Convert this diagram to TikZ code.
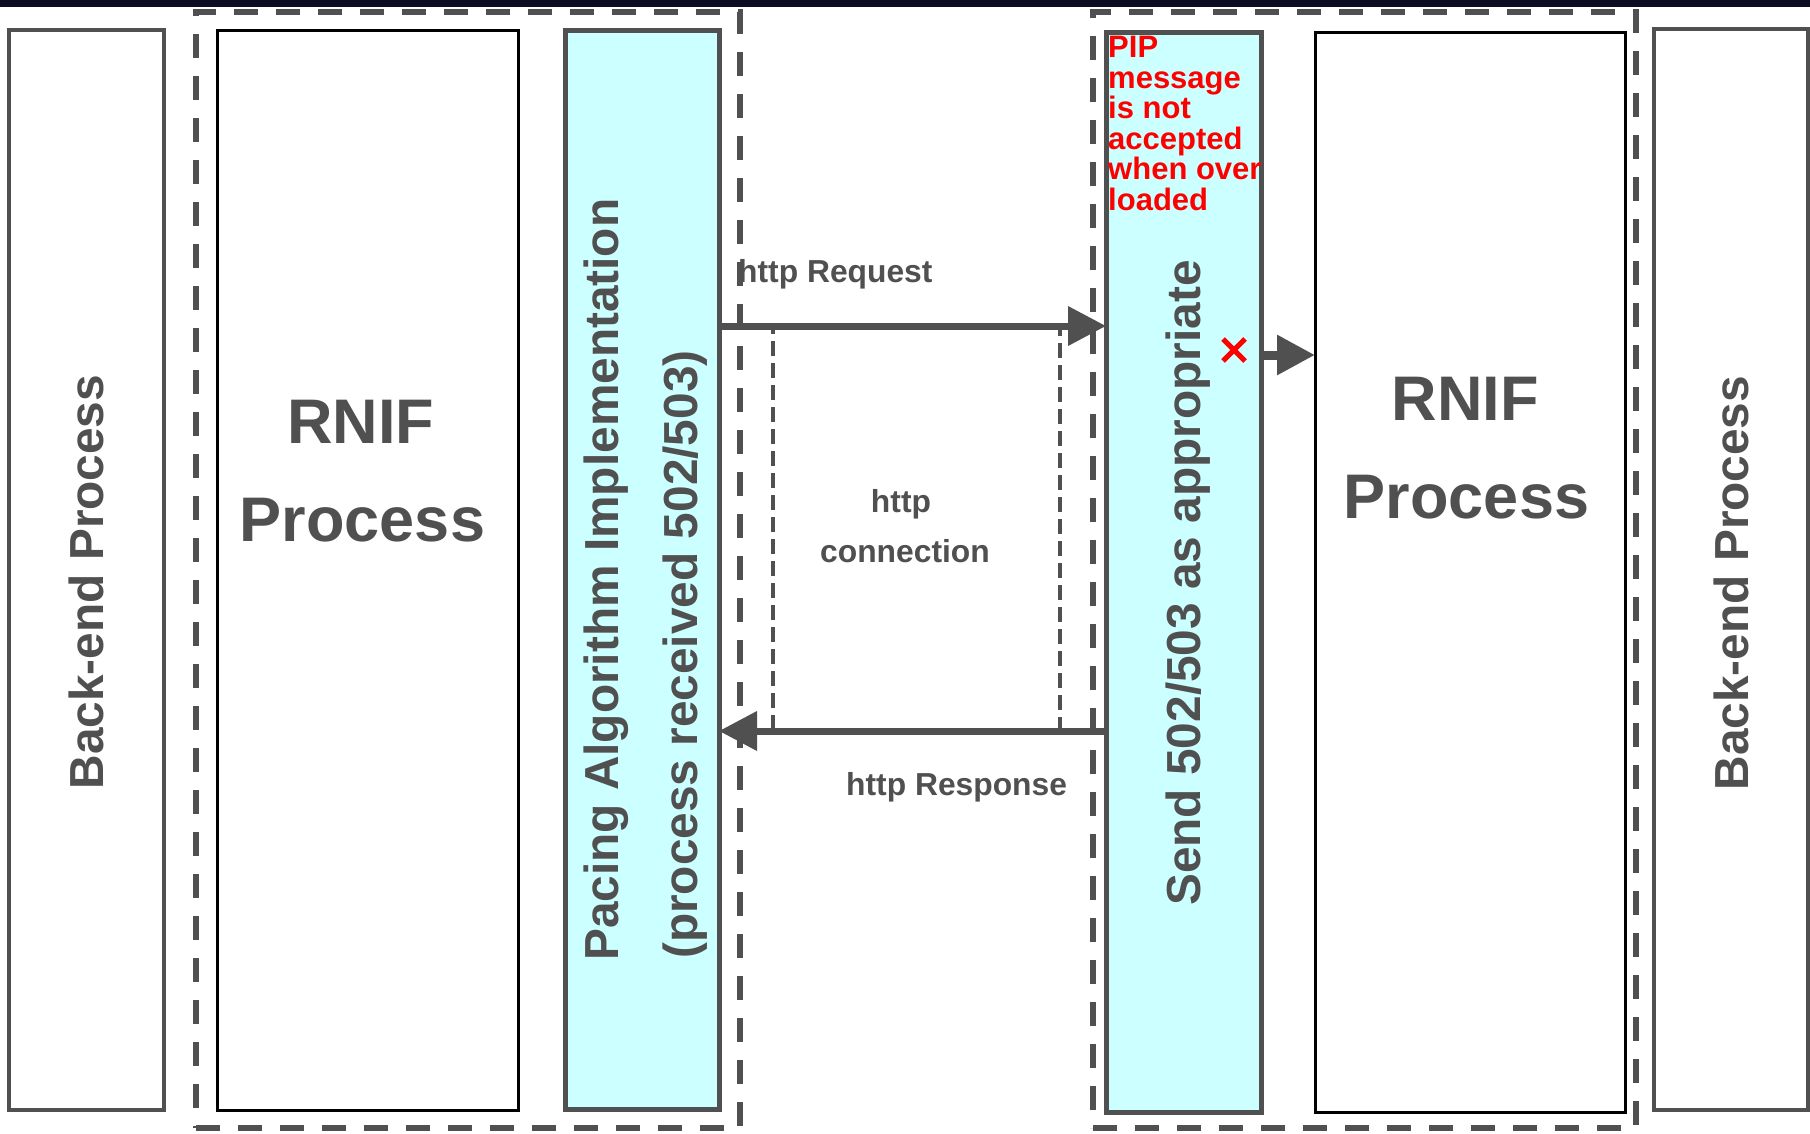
\documentclass[tikz,border=0pt]{standalone}
\usepackage{fontspec}
\setmainfont{Liberation Sans}
\usetikzlibrary{arrows.meta}
\definecolor{dg}{HTML}{505050}
\definecolor{cy}{HTML}{CCFFFF}
\definecolor{topbar}{HTML}{0C0C22}
\begin{document}
\begin{tikzpicture}[x=1pt,y=-1pt,
  bebox/.style={draw=dg, line width=4pt, inner sep=0pt, outer sep=0pt, fill=white},
  rnbox/.style={draw=black, line width=3pt, inner sep=0pt, outer sep=0pt, fill=white},
  cybox/.style={draw=dg, line width=5pt, inner sep=0pt, outer sep=0pt, fill=cy},
  grpbox/.style={draw=dg, line width=5.5pt, dash pattern=on 24pt off 18pt, inner sep=0pt, outer sep=0pt},
  connbox/.style={draw=dg, line width=3.5pt, dash pattern=on 15pt off 7pt, inner sep=0pt, outer sep=0pt},
  bigtxt/.style={text=dg, inner sep=0pt, font=\bfseries\fontsize{47.8pt}{58pt}\selectfont},
  rniftxt/.style={text=dg, inner sep=0pt, font=\bfseries\fontsize{63pt}{70pt}\selectfont},
  lbltxt/.style={text=dg, inner sep=0pt, font=\bfseries\fontsize{31.8pt}{36pt}\selectfont},
  msgarrow/.style={draw=dg, line width=7pt, -{Triangle[length=38pt,width=38pt]}},
  smallarrow/.style={draw=dg, line width=9pt, -{Triangle[length=38pt,width=38pt]}}
]
\useasboundingbox (0,0) rectangle (1810,1133);
\fill[white] (0,0) rectangle (1810,1133);
\fill[topbar] (0,0) rectangle (1810,7);

% group boxes
\node[grpbox, minimum width=544pt, minimum height=1116pt] (lgrp) at (468,570) {};
\node[grpbox, minimum width=543pt, minimum height=1116pt] (rgrp) at (1364.5,570) {};

% boxes
\node[bebox, minimum width=155pt, minimum height=1080pt] (lbe) at (86.5,570) {};
\node[rnbox, minimum width=301pt, minimum height=1080pt] (lrn) at (367.5,570) {};
\node[cybox, minimum width=154pt, minimum height=1079pt] (lcy) at (642,569.5) {};
\node[cybox, minimum width=155pt, minimum height=1080pt] (rcy) at (1183.5,572) {};
\node[rnbox, minimum width=310pt, minimum height=1080pt] (rrn) at (1470,572) {};
\node[bebox, minimum width=154pt, minimum height=1081pt] (rbe) at (1731,569.5) {};

% http connection box
\node[connbox, minimum width=287pt, minimum height=403pt] (conn) at (916.5,529.5) {};

% texts
\node[bigtxt, rotate=90, anchor=base] (lbet) at (103,582) {Back-end Process};
\node[bigtxt, rotate=90, anchor=base] (rbet) at (1748,583) {Back-end Process};
\node[rniftxt, anchor=base] (lrn1) at (361,443) {RNIF};
\node[rniftxt, anchor=base] (lrn2) at (362.5,541) {Process};
\node[rniftxt, anchor=base] (rrn1) at (1465,420) {RNIF};
\node[rniftxt, anchor=base] (rrn2) at (1466.5,518) {Process};
\node[bigtxt, rotate=90, anchor=base west] (pac1) at (618,961) {Pacing Algorithm Implementation};
\node[bigtxt, rotate=90, anchor=base west] (pac2) at (697,959) {(process received 502/503)};
\node[bigtxt, rotate=90, anchor=base] (send) at (1200,583) {Send 502/503 as appropriate};
\node[text=red, inner sep=0pt, anchor=north west, align=left,
      font=\bfseries\fontsize{31pt}{30.5pt}\selectfont] (pip) at (1108,36)
  {PIP\\message\\is not\\accepted\\when over\\loaded};
\node[lbltxt, anchor=base west] (req) at (738,282) {http Request};
\node[lbltxt, anchor=base west] (resp) at (846,795) {http Response};
\node[lbltxt, anchor=base] (conn1) at (901,512) {http};
\node[lbltxt, anchor=base] (conn2) at (905,562) {connection};

% arrows
\coordinate (reqy) at (0,326);
\coordinate (respy) at (0,731);
\coordinate (sendy) at (0,355);
\draw[msgarrow] (lcy.east |- reqy) -- (rcy.west |- reqy);
\draw[msgarrow] (rcy.west |- respy) -- (lcy.east |- respy);
\draw[smallarrow] (rcy.east |- sendy) -- (rrn.west |- sendy);

% red cross
\draw[red, line width=5pt] (1223,339) -- (1245,361) (1223,361) -- (1245,339);
\end{tikzpicture}
\end{document}
